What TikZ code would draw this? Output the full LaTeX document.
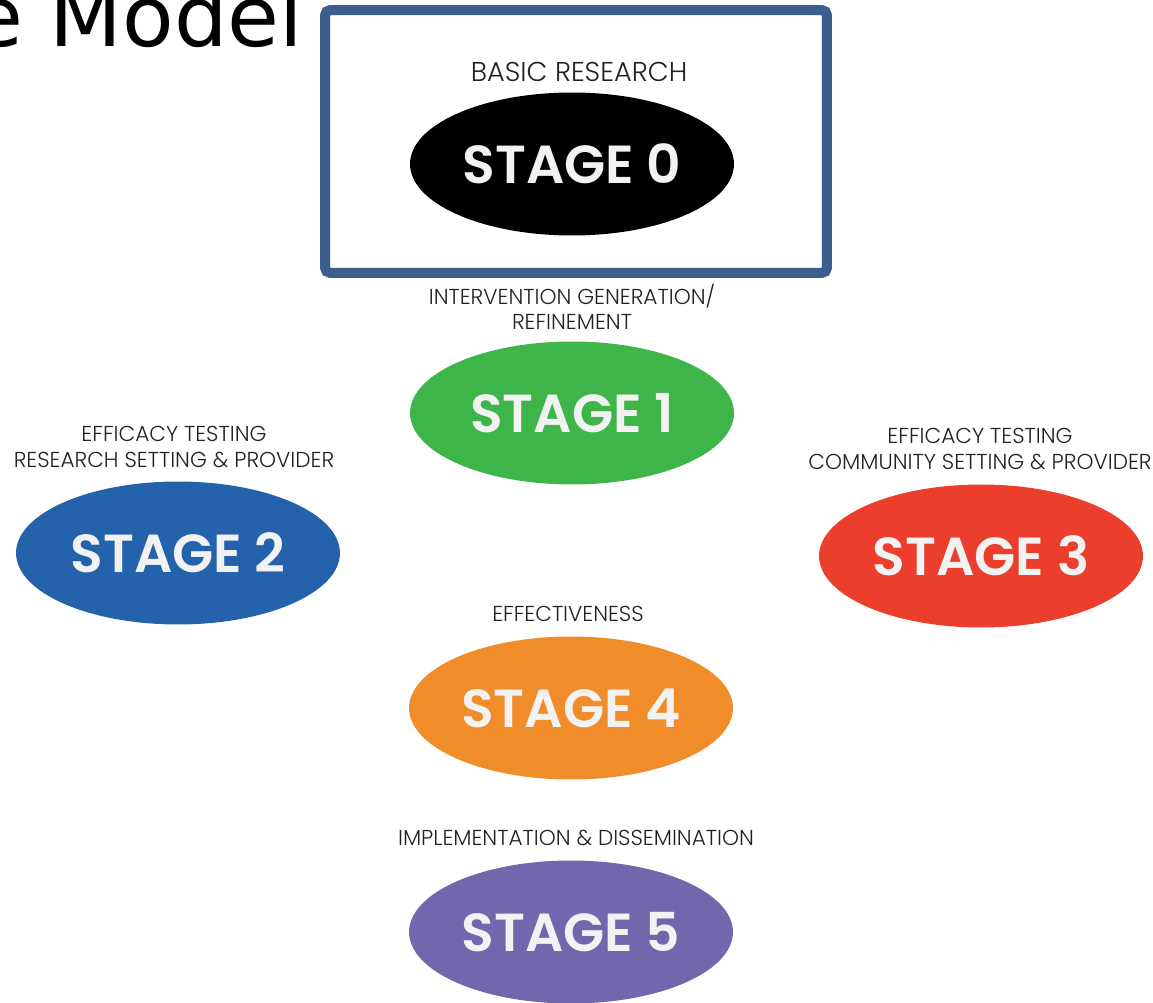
\documentclass[tikz,border=0pt]{standalone}
\usepackage{fontspec}
\setmainfont{Poppins}[UprightFont=* Light, BoldFont=* SemiBold]
\newfontfamily\titlefont{DejaVu Sans}
\usetikzlibrary{shapes.geometric}
\definecolor{boxblue}{HTML}{3C5E8C}
\definecolor{stagetext}{HTML}{F2F2F2}
\definecolor{captext}{HTML}{222222}
\definecolor{sgreen}{HTML}{3DB549}
\definecolor{sblue}{HTML}{2462AC}
\definecolor{sred}{HTML}{EC3E2C}
\definecolor{sorange}{HTML}{F08D2A}
\definecolor{spurple}{HTML}{7366AC}
\begin{document}
\begin{tikzpicture}[x=0.02cm,y=-0.02cm,
  stagenode/.style={ellipse, minimum width=6.48cm, minimum height=2.86cm,
    inner sep=0pt, text=stagetext,
    font=\fontsize{30.5}{30}\selectfont\bfseries},
  caption/.style={align=center, text=captext, inner sep=0pt,
    font=\fontsize{12.3}{14.5}\selectfont}]
\useasboundingbox (0,0) rectangle (1153,1003);
\fill[white] (0,0) rectangle (1153,1003);

% slide title, running off the top and left edges
\node[anchor=base west, inner sep=0pt,
  font=\titlefont\fontsize{48}{48}\selectfont] (title) at (-29,47) {e Model};

% frame round the basic-research stage
\node[draw=boxblue, line width=0.2cm, rounded corners=3pt,
  minimum width=10.04cm, minimum height=5.26cm] (frame) at (576,141.5) {};

% stages
\node[stagenode, fill=black]   (s0) at (572,164) {STAGE 0};
\node[stagenode, fill=sgreen]  (s1) at (572,413) {STAGE 1};
\node[stagenode, fill=sblue]   (s2) at (178,553) {STAGE 2};
\node[stagenode, fill=sred]    (s3) at (981,556) {STAGE 3};
\node[stagenode, fill=sorange] (s4) at (571,708) {STAGE 4};
\node[stagenode, fill=spurple] (s5) at (571,932) {STAGE 5};

% captions
\node[caption, font=\fontsize{15.5}{18}\selectfont] (c0) at (579,72) {BASIC RESEARCH};
\node[caption] (c1) at (572,307) {INTERVENTION GENERATION/\\REFINEMENT};
\node[caption] (c2) at (174,447) {EFFICACY TESTING\\RESEARCH SETTING \& PROVIDER};
\node[caption] (c3) at (980,449) {EFFICACY TESTING\\COMMUNITY SETTING \& PROVIDER};
\node[caption] (c4) at (568,614) {EFFECTIVENESS};
\node[caption] (c5) at (576,838) {IMPLEMENTATION \& DISSEMINATION};
\end{tikzpicture}
\end{document}
